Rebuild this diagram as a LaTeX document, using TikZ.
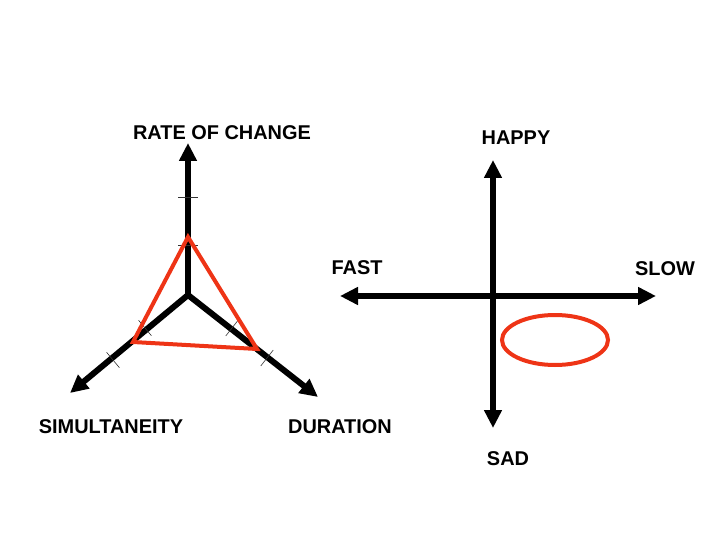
\documentclass[tikz,border=0pt]{standalone}
\usepackage{fontspec}
\setmainfont{Liberation Sans}
\usetikzlibrary{arrows.meta,calc}
\definecolor{redline}{RGB}{238,52,22}
\begin{document}
\begin{tikzpicture}[x=1bp,y=-1bp,
  axis/.style={line width=6bp,-{Triangle[length=18bp,width=17bp]}},
  axisboth/.style={line width=6bp,{Triangle[length=18bp,width=17bp]}-{Triangle[length=18bp,width=17bp]}},
  tick/.style={line width=0.6bp,black!80},
  lab/.style={font=\fontsize{20}{24}\selectfont\bfseries,inner sep=0pt},
  redshape/.style={draw=redline,line width=4bp}]
\useasboundingbox (0,0) rectangle (720,540);
% left diagram
\coordinate (c) at (188,295);
\coordinate (up) at (188,143);
\coordinate (ll) at (70,393);
\coordinate (lr) at (318,397);
\draw[axis] (c) -- (up);
\draw[axis] (c) -- (ll);
\draw[axis] (c) -- (lr);
% ticks
\draw[tick] (178,197) -- (198,197);
\draw[tick] (178,245) -- (198,245);
\draw[tick] (138.6,320.3) -- (151.4,335.7);
\draw[tick] (106.6,352.3) -- (119.4,367.7);
\draw[tick] (238.2,320.1) -- (225.8,335.9);
\draw[tick] (273.2,350.1) -- (260.8,365.9);
% red triangle
\coordinate (t1) at (188,237);
\coordinate (t2) at (133,342);
\coordinate (t3) at (257,349);
\draw[redshape,line join=miter] (t1) -- (t2) -- (t3) -- cycle;
% labels left
\node[lab] (rate) at (222,133) {RATE OF CHANGE};
\node[lab] (sim) at (111,427) {SIMULTANEITY};
\node[lab] (dur) at (340,427) {DURATION};
% right diagram
\coordinate (top) at (493,160);
\coordinate (bot) at (493,428);
\coordinate (lt) at (340,296);
\coordinate (rt) at (656,296);
\draw[axisboth] (bot) -- (top);
\draw[axisboth] (lt) -- (rt);
\draw[redshape] (555,340) ellipse [x radius=53, y radius=25];
\node[lab] (happy) at (516,138) {HAPPY};
\node[lab] (fast) at (357,268) {FAST};
\node[lab] (slow) at (665,269) {SLOW};
\node[lab] (sad) at (508,459) {SAD};
\end{tikzpicture}
\end{document}
